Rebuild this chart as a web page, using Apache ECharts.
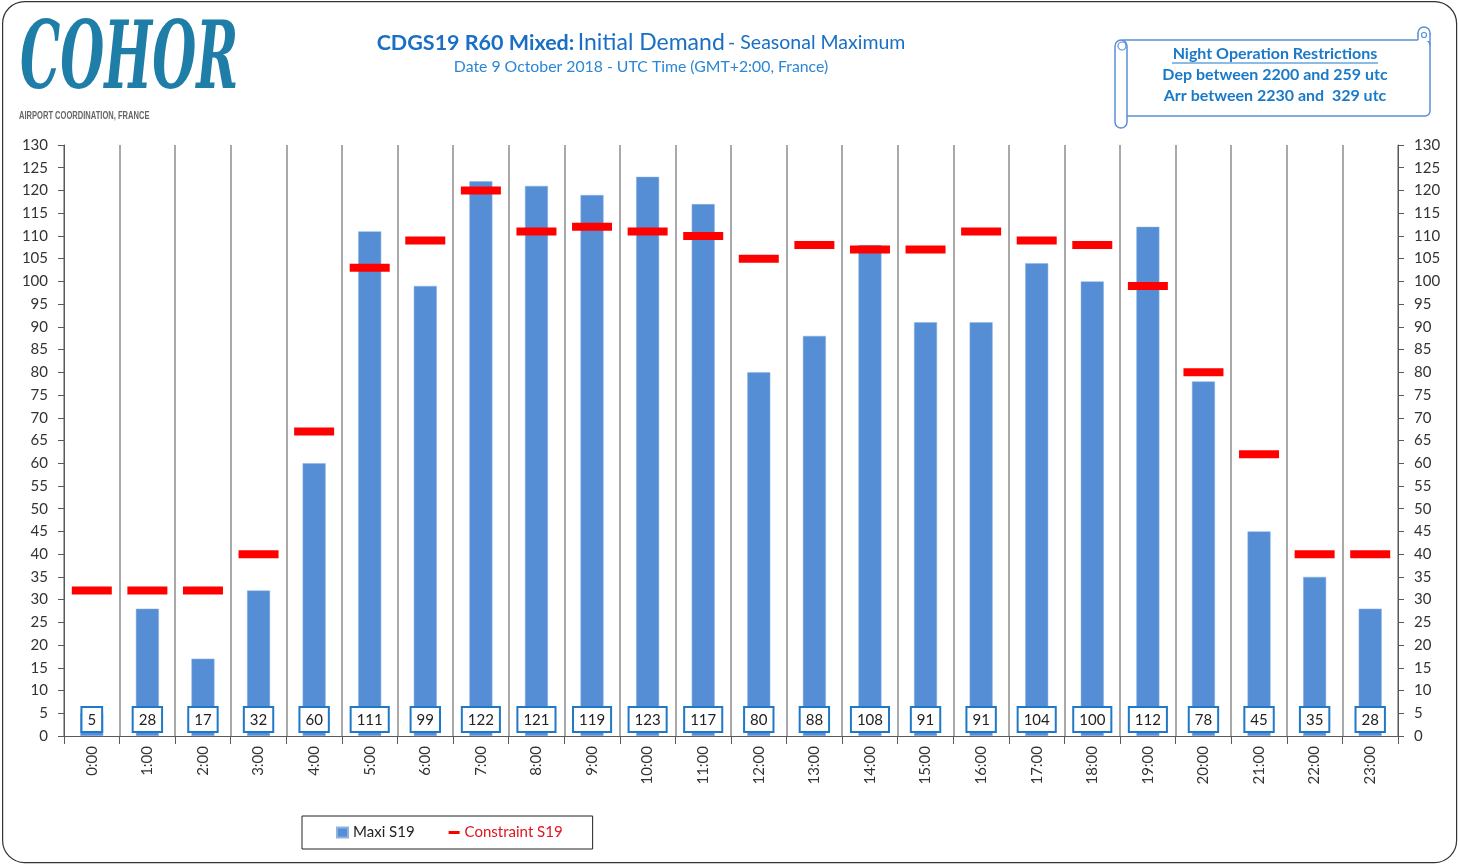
<!DOCTYPE html>
<html>
<head>
<meta charset="utf-8">
<script src="https://cdn.jsdelivr.net/npm/echarts@6/dist/echarts.min.js"></script>
<style>
  html, body { margin: 0; padding: 0; background: #fff; }
  #main { width: 1459px; height: 865px; }
</style>
</head>
<body>
<div id="main"></div>
<script>
// hours of the day (UTC)
var hours = ['0:00', '1:00', '2:00', '3:00', '4:00', '5:00', '6:00', '7:00', '8:00', '9:00', '10:00', '11:00',
  '12:00', '13:00', '14:00', '15:00', '16:00', '17:00', '18:00', '19:00', '20:00', '21:00', '22:00', '23:00'];
// seasonal maximum demand per hour
var maxiS19 = [5, 28, 17, 32, 60, 111, 99, 122, 121, 119, 123, 117, 80, 88, 108, 91, 91, 104, 100, 112, 78, 45, 35, 28];
// declared capacity per hour
var constraintS19 = [32, 32, 32, 40, 67, 103, 109, 120, 111, 112, 111, 110, 105, 108, 107, 107, 111, 109, 108, 99, 80, 62, 40, 40];

var font = 'Lato';
var blue = '#1f78c8';

var chart = echarts.init(document.getElementById('main'));

var yAxisCommon = {
  type: 'value',
  min: 0,
  max: 130,
  interval: 5,
  axisLine: { show: true, lineStyle: { color: '#595959', width: 1 } },
  axisTick: { show: true, length: 6, lineStyle: { color: '#595959' } },
  axisLabel: { color: '#333', fontSize: 15, fontFamily: font, margin: 16 },
  splitLine: { show: false }
};

var option = {
  animation: false,
  textStyle: { fontFamily: font },
  grid: { left: 64, right: 61, top: 145, bottom: 129 },
  legend: {
    left: 302,
    top: 816,
    orient: 'horizontal',
    borderColor: '#222',
    borderWidth: 1,
    padding: [9, 30, 9, 34],
    itemGap: 34,
    itemWidth: 11,
    itemHeight: 10,
    textStyle: { fontSize: 15, fontFamily: font, color: '#222' },
    data: [
      { name: 'Maxi S19', icon: 'rect' },
      { name: 'Constraint S19', icon: 'path://M0,0H11V3H0Z', textStyle: { color: '#e0141e' } }
    ]
  },
  xAxis: {
    type: 'category',
    data: hours,
    boundaryGap: true,
    axisLine: { lineStyle: { color: '#595959' } },
    axisTick: { show: true, length: 8, interval: 0, lineStyle: { color: '#595959' } },
    axisLabel: { rotate: 90, color: '#333', fontSize: 15, fontFamily: font, margin: 10, interval: 0 },
    splitLine: { show: true, interval: 0, lineStyle: { color: '#8c8c8c', width: 1.5 } }
  },
  yAxis: [
    Object.assign({ position: 'left' }, yAxisCommon),
    Object.assign({ position: 'right' }, yAxisCommon)
  ],
  series: [
    {
      name: 'Maxi S19',
      type: 'bar',
      data: maxiS19,
      barWidth: 23,
      itemStyle: { color: '#558ed5', borderColor: '#8db3e2', borderWidth: 0.5 },
      label: {
        show: true,
        position: 'insideBottom',
        distance: 5,
        formatter: '{c}',
        color: '#222',
        fontSize: 15,
        fontFamily: font,
        backgroundColor: '#fff',
        borderColor: blue,
        borderWidth: 2,
        padding: [5, 5, 3, 5]
      },
      z: 2
    },
    {
      name: 'Constraint S19',
      type: 'scatter',
      data: constraintS19,
      symbol: 'rect',
      symbolSize: [40, 8],
      symbolKeepAspect: true,
      itemStyle: { color: '#ff0000', opacity: 1 },
      z: 3
    }
  ],
  graphic: [
    // outer frame
    {
      type: 'rect', left: 2, top: 1, z: -10,
      shape: { width: 1454, height: 861, r: 22 },
      style: { fill: '#fff', stroke: '#333', lineWidth: 1.2 }
    },
    // logo
    {
      type: 'text', x: 20, y: 17, scaleX: 0.55, scaleY: 1.02,
      style: {
        text: 'COHOR', fill: '#1f7ea8',
        font: 'italic bold 92px "DejaVu Serif"'
      }
    },
    {
      type: 'text', x: 19, y: 111, scaleX: 0.72,
      style: {
        text: 'AIRPORT COORDINATION, FRANCE', fill: '#666',
        font: 'bold 10.5px "Liberation Sans"'
      }
    },
    // title
    {
      type: 'text', x: 641, y: 43, z: 10,
      style: {
        text: '{b|CDGS19 R60 Mixed:} {m|Initial Demand} {s|- Seasonal Maximum}',
        align: 'center', verticalAlign: 'middle',
        rich: {
          b: { fontSize: 21.5, fontWeight: 'bold', fill: '#1a6fc4', fontFamily: font },
          m: { fontSize: 23, fill: '#1a6fc4', fontFamily: font },
          s: { fontSize: 19.5, fill: '#1a6fc4', fontFamily: font }
        }
      }
    },
    {
      type: 'text', x: 641, y: 67, z: 10,
      style: {
        text: 'Date 9 October 2018 - UTC Time (GMT+2:00, France)',
        fill: '#2b86d6', fontSize: 15.8, fontFamily: font,
        align: 'center', verticalAlign: 'middle'
      }
    },
    // night restrictions scroll
    {
      type: 'group', z: 10,
      children: [
        {
          type: 'rect',
          shape: { x: 1119, y: 40, width: 311, height: 76, r: 5 },
          style: { fill: '#fff', stroke: '#5b8fd8', lineWidth: 1.5 }
        },
        {
          type: 'rect',
          shape: { x: 1115, y: 40, width: 12, height: 88, r: 6 },
          style: { fill: '#fff', stroke: '#5b8fd8', lineWidth: 1.5 }
        },
        {
          type: 'circle',
          shape: { cx: 1122, cy: 46, r: 4 },
          style: { fill: 'none', stroke: '#5b8fd8', lineWidth: 1.2 }
        },
        {
          type: 'circle',
          shape: { cx: 1424, cy: 33, r: 6 },
          style: { fill: '#fff', stroke: '#5b8fd8', lineWidth: 1.5 }
        },
        {
          type: 'rect',
          shape: { x: 1418, y: 33, width: 12, height: 8 },
          style: { fill: '#fff', stroke: null }
        },
        {
          type: 'polyline',
          shape: { points: [[1418, 33], [1418, 40]] },
          style: { stroke: '#5b8fd8', lineWidth: 1.5 }
        },
        {
          type: 'polyline',
          shape: { points: [[1430, 33], [1430, 45]] },
          style: { stroke: '#5b8fd8', lineWidth: 1.5 }
        },
        {
          type: 'circle',
          shape: { cx: 1424, cy: 35, r: 2.5 },
          style: { fill: 'none', stroke: '#5b8fd8', lineWidth: 1.2 }
        },
        {
          type: 'text',
          style: {
            x: 1275, y: 54, text: 'Night Operation Restrictions', align: 'center', verticalAlign: 'middle',
            fill: '#1a7ac8', fontSize: 16, fontWeight: 'bold', fontFamily: font
          }
        },
        {
          type: 'polyline',
          shape: { points: [[1172, 63], [1378, 63]] },
          style: { stroke: '#1a7ac8', lineWidth: 1.2 }
        },
        {
          type: 'text',
          style: {
            x: 1275, y: 75, text: 'Dep between 2200 and 259 utc', align: 'center', verticalAlign: 'middle',
            fill: '#1a7ac8', fontSize: 16, fontWeight: 'bold', fontFamily: font
          }
        },
        {
          type: 'text',
          style: {
            x: 1275, y: 96, text: 'Arr between 2230 and  329 utc', align: 'center', verticalAlign: 'middle',
            fill: '#1a7ac8', fontSize: 16, fontWeight: 'bold', fontFamily: font
          }
        }
      ]
    }
  ]
};

chart.setOption(option);
</script>
</body>
</html>
